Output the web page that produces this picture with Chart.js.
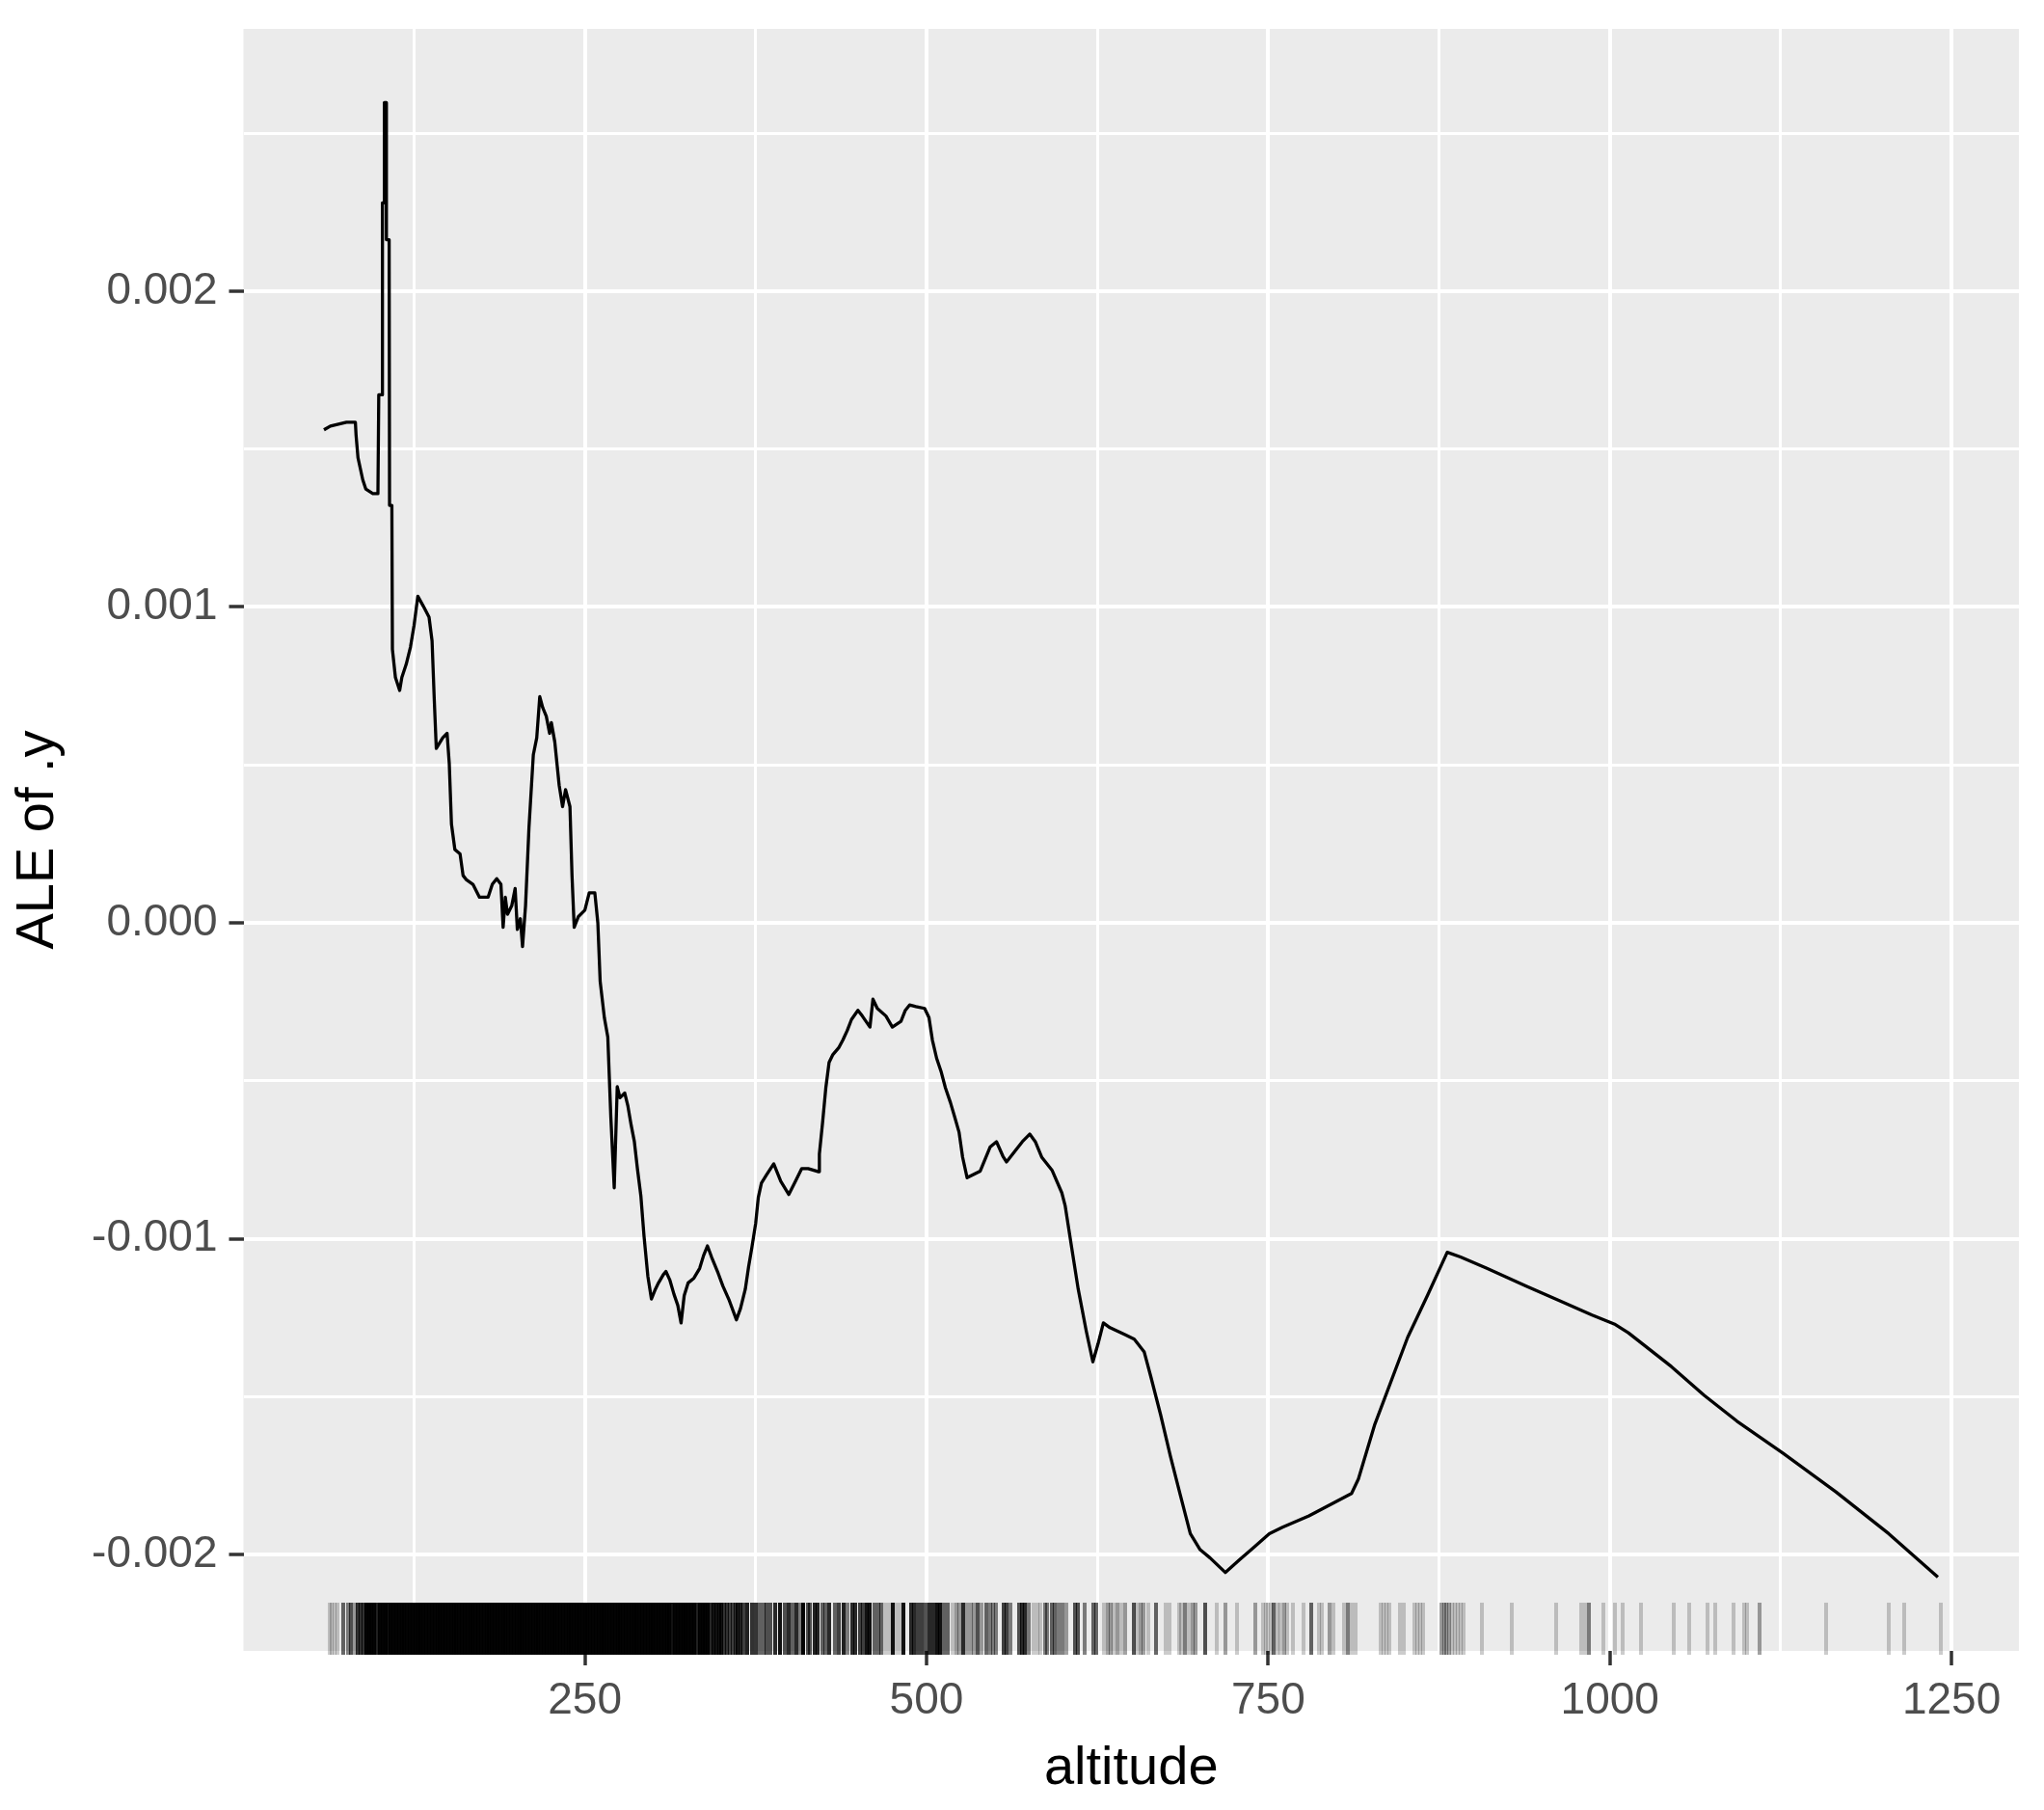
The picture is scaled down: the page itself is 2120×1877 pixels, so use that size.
<!DOCTYPE html>
<html>
<head>
<meta charset="utf-8">
<script src="https://cdn.jsdelivr.net/npm/chart.js@4"></script>
<style>
html,body{margin:0;padding:0;background:#ffffff;}
canvas{display:block;}
</style>
</head>
<body>
<canvas id="c" width="2120" height="1877"></canvas>
<script>
// ---- ALE curve (altitude vs ALE of .y) ----
const altitude = [
  59.1, 63.8, 75.6, 82.1, 82.6, 84.0, 87.5, 89.7, 94.9, 98.6,
  99.2, 101.5, 101.9, 102.9, 103.3, 104.5, 104.8, 106.8, 107.1, 108.8,
  109.2, 111.4, 114.5, 116.1, 119.3, 122.4, 125.0, 127.8, 131.9, 136.0,
  138.2, 139.8, 141.3, 146.0, 149.2, 150.8, 152.4, 154.9, 158.7, 160.9,
  163.4, 168.1, 172.9, 179.2, 182.3, 185.5, 188.6, 190.2, 191.8, 193.4,
  196.5, 199.0, 200.6, 202.8, 204.4, 206.6, 209.1, 212.3, 214.8, 217.0,
  219.2, 221.8, 224.2, 225.5, 228.0, 231.2, 233.7, 235.9, 239.1, 240.6,
  242.2, 245.3, 250.0, 253.2, 257.3, 259.5, 261.2, 264.3, 266.8, 269.0,
  271.5, 273.7, 275.7, 279.2, 281.5, 283.9, 286.2, 288.6, 291.0, 293.3,
  296.1, 298.7, 301.6, 303.9, 307.4, 309.3, 312.1, 315.2, 318.0, 320.4,
  322.7, 325.6, 329.8, 334.0, 336.9, 339.7, 342.7, 347.5, 351.0, 355.7,
  360.9, 363.9, 367.4, 369.8, 372.2, 375.0, 376.9, 379.2, 382.8, 388.2,
  393.4, 399.2, 404.0, 408.7, 413.4, 421.1, 421.6, 424.0, 426.3, 428.7,
  431.5, 435.7, 438.8, 442.0, 445.1, 449.8, 453.0, 458.6, 460.8, 464.0,
  470.3, 475.0, 481.3, 484.5, 487.6, 492.3, 498.6, 501.8, 504.3, 507.4,
  510.6, 513.8, 517.5, 520.7, 523.8, 526.4, 529.7, 539.3, 546.5, 551.2,
  555.9, 558.5, 570.1, 575.5, 579.6, 584.4, 591.8, 599.0, 601.4, 606.2,
  611.0, 616.9, 621.7, 625.5, 629.4, 634.2, 644.8, 652.0, 659.3, 664.0,
  671.3, 678.5, 685.7, 693.0, 700.2, 707.5, 718.6, 729.2, 738.8, 750.8,
  760.5, 779.8, 811.0, 816.0, 828.0, 852.0, 866.5, 881.0, 890.7, 910.0,
  938.8, 963.0, 987.0, 1004.0, 1013.5, 1045.0, 1069.0, 1093.0, 1126.8, 1165.4,
  1204.0, 1240.0
];
const aleY = [
  0.001561, 0.001573, 0.001585, 0.001585, 0.001544, 0.001473, 0.001403, 0.001374, 0.001359, 0.001359,
  0.001672, 0.001672, 0.002280, 0.002280, 0.002597, 0.002597, 0.002163, 0.002163, 0.001322, 0.001322,
  0.000866, 0.000777, 0.000736, 0.000777, 0.000819, 0.000873, 0.000941, 0.001034, 0.001002, 0.000968,
  0.000893, 0.000709, 0.000552, 0.000586, 0.000600, 0.000504, 0.000313, 0.000232, 0.000218, 0.000150,
  0.000136, 0.000122, 0.000081, 0.000081, 0.000122, 0.000140, 0.000122, -0.000014, 0.000081, 0.000027,
  0.000054, 0.000109, -0.000021, 0.000013, -0.000075, 0.000054, 0.000300, 0.000532, 0.000586, 0.000716,
  0.000681, 0.000654, 0.000600, 0.000634, 0.000573, 0.000436, 0.000368, 0.000422, 0.000368, 0.000150,
  -0.000014, 0.000020, 0.000040, 0.000095, 0.000095, 0.000000, -0.000185, -0.000301, -0.000362, -0.000614,
  -0.000839, -0.000519, -0.000554, -0.000539, -0.000580, -0.000641, -0.000692, -0.000783, -0.000865, -0.000992,
  -0.001119, -0.001191, -0.001160, -0.001140, -0.001114, -0.001104, -0.001130, -0.001176, -0.001211, -0.001267,
  -0.001180, -0.001140, -0.001125, -0.001094, -0.001053, -0.001023, -0.001058, -0.001109, -0.001150, -0.001196,
  -0.001257, -0.001221, -0.001160, -0.001089, -0.001028, -0.000951, -0.000870, -0.000824, -0.000799, -0.000763,
  -0.000819, -0.000860, -0.000819, -0.000778, -0.000778, -0.000788, -0.000732, -0.000630, -0.000523, -0.000442,
  -0.000417, -0.000396, -0.000371, -0.000341, -0.000306, -0.000277, -0.000295, -0.000330, -0.000242, -0.000271,
  -0.000295, -0.000330, -0.000312, -0.000277, -0.000260, -0.000265, -0.000271, -0.000300, -0.000371, -0.000429,
  -0.000470, -0.000522, -0.000569, -0.000616, -0.000663, -0.000742, -0.000807, -0.000786, -0.000710, -0.000693,
  -0.000739, -0.000757, -0.000693, -0.000669, -0.000693, -0.000743, -0.000783, -0.000855, -0.000895, -0.001028,
  -0.001160, -0.001293, -0.001390, -0.001333, -0.001267, -0.001282, -0.001303, -0.001318, -0.001359, -0.001435,
  -0.001558, -0.001690, -0.001812, -0.001934, -0.001985, -0.002011, -0.002057, -0.002016, -0.001980, -0.001934,
  -0.001914, -0.001878, -0.001807, -0.001761, -0.001588, -0.001313, -0.001180, -0.001043, -0.001058, -0.001094,
  -0.001150, -0.001196, -0.001242, -0.001272, -0.001298, -0.001405, -0.001496, -0.001578, -0.001680, -0.001802,
  -0.001934, -0.002072
];

// ---- Rug: observed altitudes and number of overlapping observations ----
const rugAltitude = [
  63, 65, 67, 69,
  73.5, 76.5, 79, 81.5, 84, 86, 88,
  90, 92, 94, 96, 98, 100, 102, 104, 106,
  108, 110, 112, 114, 116, 118, 120, 122, 124, 126, 128, 130, 132, 134, 136, 138, 140, 142, 144, 146,
  148, 150, 152, 154, 156, 158, 160, 162, 164, 166, 168, 170, 172, 174, 176, 178, 180, 182, 184, 186,
  188, 190, 192, 194, 196, 198, 200, 202, 204, 206, 208, 210, 212, 214, 216, 218, 220, 222, 224, 226,
  228, 230, 232, 234, 236, 238, 240, 242, 244, 246, 248, 250, 252, 254, 256, 258, 260, 262, 264, 266,
  268, 270, 272, 274, 276, 278, 280, 282, 284, 286, 288, 290, 292, 294, 296, 298, 300, 302, 304, 306,
  308, 310, 312,
  314, 316, 318, 320, 322, 324, 326, 328, 330, 332,
  334, 336, 338, 340, 342, 344, 346, 348, 350, 352, 354, 356, 358, 360, 362, 364,
  366, 369, 372.5, 375, 378, 380.5, 383, 385.5, 389, 392.5,
  396.5, 399.3, 402, 405, 407.5, 410, 413, 415, 418, 420.5,
  423.5, 426, 429, 433, 436, 439.5, 442.5, 445.5, 448, 451,
  453.5, 456, 458.5, 462, 464.5, 467, 470, 472.5, 475, 477.5,
  480.5, 483.3, 488.5, 491, 494, 496.5, 499.3, 502, 505, 508,
  510, 513, 515.5, 518.8, 522, 524, 526.6, 529.5, 532.5, 534.5,
  537.5, 540.5, 543.5, 546.5, 549, 551, 556.5, 558.8, 561.5, 567.5,
  570, 572, 575, 578.5, 581, 583.5, 586.5, 588.5, 591.5, 594,
  597, 599.3, 602.3, 609, 611, 616, 622, 624, 629.7, 632.5,
  634.5, 637, 639.6, 642.5, 645.6, 651.4, 654, 656.8, 659, 662,
  667.6, 675, 677.8, 684.5, 686.5, 689, 692, 695, 697, 704,
  712.3, 719, 727, 740.8, 746.3, 748.2, 750.1, 752, 754.2, 756.5,
  759, 761.5, 764, 767.9, 775.9, 781.4, 786.8, 789.4, 795, 797.7,
  805.8, 808.6, 811.3, 813.9, 832.5, 834.5, 836.5, 838.5, 846.6, 849.2,
  857, 859, 861, 863, 876.5, 878.5, 880.5, 882.3, 884.3, 886.5,
  888.7, 891, 893, 906.3, 928, 960.5, 979.3, 981.8, 984.5, 995.5,
  1003.5, 1009.5, 1022.8, 1047, 1058, 1071.6, 1077, 1090.4, 1098.2, 1100.6,
  1109.4, 1158.2, 1204, 1215, 1242
];
const rugCount = [
  1, 1, 1, 1,
  4, 3, 5, 2, 7, 7, 7,
  20, 20, 20, 20, 9, 20, 20, 20, 12,
  20, 20, 20, 20, 20, 20, 20, 20, 20, 20, 20, 20, 20, 20, 20, 20, 20, 20, 20, 20,
  20, 20, 20, 20, 20, 20, 20, 20, 20, 20, 20, 20, 20, 20, 20, 20, 20, 20, 20, 20,
  20, 20, 20, 20, 20, 20, 20, 20, 20, 20, 20, 20, 20, 20, 20, 20, 20, 20, 20, 20,
  20, 20, 20, 20, 20, 20, 20, 20, 20, 20, 20, 20, 20, 20, 20, 20, 20, 20, 20, 20,
  20, 20, 20, 20, 20, 20, 20, 20, 20, 20, 20, 20, 20, 20, 20, 20, 20, 20, 20, 20,
  20, 20, 20,
  12, 20, 20, 20, 20, 20, 20, 20, 20, 9,
  20, 20, 20, 20, 8, 12, 12, 12, 12, 7, 7, 6, 6, 7, 9, 9,
  6, 9, 7, 7, 4, 4, 5, 5, 8, 12,
  5, 8, 4, 8, 3, 20, 5, 5, 9, 9,
  4, 4, 8, 4, 6, 9, 3, 8, 8, 6,
  6, 12, 12, 4, 4, 4, 1, 1, 12, 1,
  1, 12, 8, 8, 6, 6, 5, 8, 8, 12,
  12, 4, 4, 1, 2, 2, 8, 2, 2, 2,
  5, 2, 4, 3, 3, 3, 6, 6, 3, 5,
  8, 8, 3, 1, 1, 1, 3, 3, 4, 4,
  3, 3, 2, 5, 5, 3, 4, 4, 1, 2,
  2, 1, 2, 1, 2, 5, 1, 2, 2, 1,
  4, 1, 1, 1, 1, 3, 1, 2, 2, 5,
  1, 2, 1, 2, 1, 1, 1, 1, 4, 1,
  1, 2, 1, 1, 1, 4, 1, 1, 2, 1,
  1, 3, 1, 1, 1, 1, 1, 1, 1, 1,
  1, 1, 1, 1, 2, 2, 2, 2, 1, 1,
  1, 1, 1, 1, 1, 1, 1, 1, 3, 1,
  1, 1, 1, 1, 1, 1, 1, 1, 1, 1,
  2, 1, 1, 1, 1
];

// ---- Axis breaks and limits ----
const xMajorTicks = [250, 500, 750, 1000, 1250];
const xMinorTicks = [125, 375, 625, 875, 1125];
const yMajorTicks = [-0.002, -0.001, 0, 0.001, 0.002];
const yMinorTicks = [-0.0015, -0.0005, 0.0005, 0.0015, 0.0025];
const xLimits = [0.2, 1299.3];
const yLimits = [-0.0023053, 0.0028305];

const isIn = (arr, v) => arr.some(m => Math.abs(m - v) < 1e-9);
const FONT = "'Liberation Sans', Arial, Helvetica, sans-serif";

const panelBg = {
  id: 'panelBg',
  beforeDraw(chart) {
    const {ctx, chartArea: a} = chart;
    ctx.save();
    ctx.fillStyle = '#EBEBEB';
    ctx.fillRect(a.left, a.top, a.right - a.left, a.bottom - a.top);
    ctx.restore();
  }
};

const rugPlugin = {
  id: 'rug',
  afterDatasetsDraw(chart) {
    const {ctx, chartArea: a, scales} = chart;
    const x = scales.x;
    const len = 0.03 * (a.bottom - a.top);
    const y0 = Math.round(a.bottom + 4);
    const y1 = Math.round(a.bottom - len);
    ctx.save();
    ctx.lineWidth = 4;
    ctx.lineCap = 'butt';
    rugAltitude.forEach((v, i) => {
      const px = Math.round(x.getPixelForValue(v));
      const alpha = 1 - Math.pow(0.8, rugCount[i] || 1);
      ctx.strokeStyle = 'rgba(0,0,0,' + alpha.toFixed(4) + ')';
      ctx.beginPath();
      ctx.moveTo(px, y0);
      ctx.lineTo(px, y1);
      ctx.stroke();
    });
    ctx.restore();
  }
};

const points = altitude.map((v, i) => ({x: v, y: aleY[i]}));

const fmtY = v => (Math.abs(v) < 1e-12 ? 0 : v).toFixed(3);

new Chart(document.getElementById('c'), {
  type: 'line',
  data: {
    datasets: [{
      data: points,
      borderColor: '#000000',
      borderWidth: 3.3,
      pointRadius: 0,
      tension: 0,
      fill: false,
      borderJoinStyle: 'round',
      borderCapStyle: 'butt'
    }]
  },
  options: {
    responsive: false,
    animation: false,
    devicePixelRatio: 1,
    layout: {padding: {top: 30, right: 26, left: 0, bottom: 0}},
    plugins: {legend: {display: false}, tooltip: {enabled: false}},
    scales: {
      x: {
        type: 'linear',
        min: xLimits[0],
        max: xLimits[1],
        afterBuildTicks: s => {
          s.ticks = [...xMinorTicks, ...xMajorTicks].sort((a, b) => a - b).map(v => ({value: v}));
        },
        afterFit: s => {
          s.height = 165;
          s.paddingLeft = 0; s.paddingRight = 0;
        },
        ticks: {
          autoSkip: false, maxRotation: 0, minRotation: 0, padding: 10,
          color: '#4D4D4D',
          font: {family: FONT, size: 46},
          callback: v => isIn(xMajorTicks, v) ? String(v) : ''
        },
        grid: {
          color: '#FFFFFF',
          lineWidth: c => (c.tick && isIn(xMajorTicks, c.tick.value)) ? 4 : 3,
          drawTicks: true,
          tickLength: 15,
          tickWidth: 3.5,
          tickColor: c => (c.tick && isIn(xMajorTicks, c.tick.value)) ? '#333333' : 'rgba(0,0,0,0)'
        },
        border: {display: false},
        title: {
          display: true, text: 'altitude', color: '#000000',
          font: {family: FONT, size: 56},
          padding: {top: 0, bottom: 9}
        }
      },
      y: {
        type: 'linear',
        min: yLimits[0],
        max: yLimits[1],
        afterBuildTicks: s => {
          s.ticks = [...yMinorTicks, ...yMajorTicks].sort((a, b) => a - b).map(v => ({value: v}));
        },
        afterFit: s => {
          s.width = 252.5;
          s.paddingTop = 0; s.paddingBottom = 0;
        },
        ticks: {
          autoSkip: false, padding: 12,
          color: '#4D4D4D',
          font: {family: FONT, size: 46},
          callback: v => isIn(yMajorTicks, v) ? fmtY(v) : ''
        },
        grid: {
          color: '#FFFFFF',
          lineWidth: c => (c.tick && isIn(yMajorTicks, c.tick.value)) ? 4 : 3,
          drawTicks: true,
          tickLength: 15,
          tickWidth: 3.5,
          tickColor: c => (c.tick && isIn(yMajorTicks, c.tick.value)) ? '#333333' : 'rgba(0,0,0,0)'
        },
        border: {display: false},
        title: {
          display: true, text: 'ALE of .y', color: '#000000',
          font: {family: FONT, size: 56},
          padding: {top: 6, bottom: 0}
        }
      }
    }
  },
  plugins: [panelBg, rugPlugin]
});
</script>
</body>
</html>
